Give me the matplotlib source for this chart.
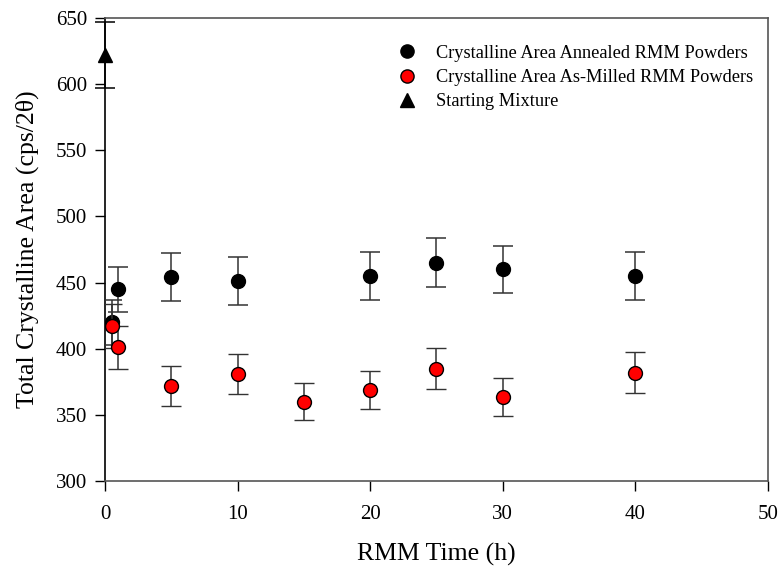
import matplotlib
matplotlib.use("Agg")
import matplotlib.pyplot as plt
from matplotlib.lines import Line2D

plt.rcParams['font.family'] = ['Liberation Serif', 'DejaVu Serif']

# Data
annealed_x = [0.5, 1, 5, 10, 20, 25, 30, 40]
annealed_y = [420, 445, 454, 451, 455, 465, 460, 455]
annealed_err = [17, 17, 18, 18, 18, 18.5, 18, 18]

milled_x = [0.5, 1, 5, 10, 15, 20, 25, 30, 40]
milled_y = [417, 401, 372, 381, 360, 369, 385, 363.5, 382]
milled_err = [16.5, 16, 15, 15, 14, 14.5, 15.5, 14.5, 15.5]

start_x = [0]
start_y = [622]
start_err = [25]

xticks = [0, 10, 20, 30, 40, 50]
yticks = [300, 350, 400, 450, 500, 550, 600, 650]

labels = ['Crystalline Area Annealed RMM Powders',
          'Crystalline Area As-Milled RMM Powders',
          'Starting Mixture']

fig = plt.figure(figsize=(7.82, 5.71), dpi=100)
ax = fig.add_axes([0.1343, 0.1576, 0.8477, 0.8109])

ecol = '#333333'
common = dict(markersize=10, elinewidth=1.1, capsize=7.5, capthick=1.1)
ax.errorbar(annealed_x, annealed_y, yerr=annealed_err, fmt='o', color='black',
            ecolor=ecol, markeredgecolor='black', zorder=3, **common)
ax.errorbar(milled_x, milled_y, yerr=milled_err, fmt='o', color='#ff0000',
            ecolor=ecol, markeredgecolor='black', markeredgewidth=1.0, zorder=4, **common)
ax.errorbar(start_x, start_y, yerr=start_err, fmt='^', color='black',
            ecolor='black', zorder=5, clip_on=False, **common)

ax.set_xlim(0, 50)
ax.set_ylim(300, 650)
ax.set_xticks(xticks)
ax.set_yticks(yticks)
ax.tick_params(direction='out', length=7, width=1, labelsize=15, colors='black')
ax.tick_params(axis='x', pad=10)
ax.tick_params(axis='y', pad=6)

for s in ['top', 'right', 'bottom']:
    ax.spines[s].set_color('#555555')
ax.spines['left'].set_color('black')
for s in ax.spines.values():
    s.set_linewidth(1.2)

ax.set_xlabel('RMM Time (h)', fontsize=18.5, labelpad=14)
ax.set_ylabel('Total Crystalline Area (cps/2θ)', fontsize=18.5, labelpad=12)

h2 = [Line2D([], [], marker='o', linestyle='none', color='black', markersize=9.5),
      Line2D([], [], marker='o', linestyle='none', markerfacecolor='#ff0000',
             markeredgecolor='black', markersize=9.5),
      Line2D([], [], marker='^', linestyle='none', color='black', markersize=9.5)]
ax.legend(h2, labels, loc='upper right', bbox_to_anchor=(0.994, 0.966), frameon=False,
          fontsize=13.25, handletextpad=0.8, labelspacing=0.40, borderaxespad=0.2,
          handlelength=1.5)

fig.savefig('out.png', dpi=100)
